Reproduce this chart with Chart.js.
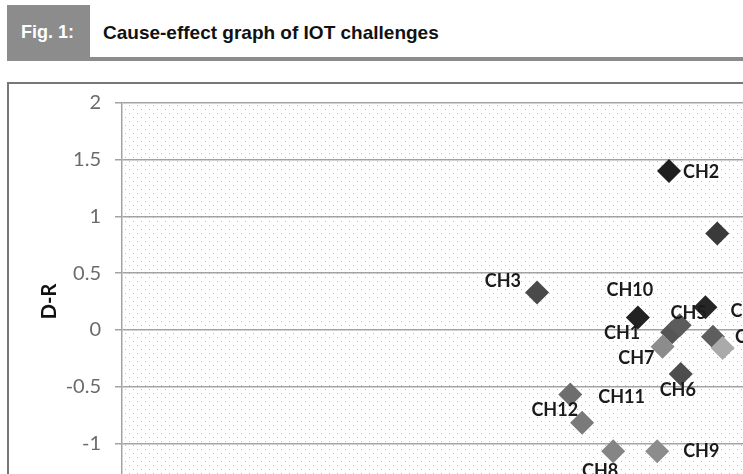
<!DOCTYPE html>
<html lang="en">
<head>
  <meta charset="UTF-8">
  <title>Cause-effect graph of IOT challenges</title>
  <script src="https://cdn.jsdelivr.net/npm/chart.js"></script>
  <style>
    html, body {
      margin: 0;
      padding: 0;
      width: 743px;
      height: 474px;
      overflow: hidden;
      background: #fff;
      font-family: "Liberation Sans", Arial, sans-serif;
    }
    .figbox {
      position: absolute;
      left: 7px;
      top: 5px;
      width: 83px;
      height: 55px;
      background: #8c8c8c;
    }
    .figbox span {
      position: absolute;
      left: 14px;
      top: 17px;
      color: #fff;
      font-weight: bold;
      font-size: 18px;
    }
    .rule {
      position: absolute;
      left: 7px;
      top: 57px;
      width: 800px;
      height: 4px;
      background: #8c8c8c;
    }
    .title {
      position: absolute;
      left: 103px;
      top: 22px;
      font-weight: bold;
      font-size: 19px;
      color: #111;
    }
    .frame {
      position: absolute;
      left: 7px;
      top: 82px;
      width: 900px;
      height: 600px;
      border: 2px solid #777;
    }
    #chart {
      position: absolute;
      left: 0;
      top: 0;
    }
  </style>
</head>
<body>
  <div class="figbox"><span>Fig. 1:</span></div>
  <div class="rule"></div>
  <div class="title">Cause-effect graph of IOT challenges</div>
  <div class="frame"></div>
  <canvas id="chart" width="1000" height="543"></canvas>

  <script>
    // challenges, D+R (x) and D-R (y)
    const challenges = ['CH1', 'CH2', 'CH3', 'CH4', 'CH5', 'CH6', 'CH7', 'CH8',
                        'CH9', 'CH10', 'CH11', 'CH12', 'CH13', 'CH14', 'CH15'];
    const dPlusR  = [5.13, 5.10, 3.87, 5.44, 5.20, 5.21, 5.04, 4.58,
                     4.99, 4.81, 4.18, 4.29, 5.55, 5.51, 5.60];
    const dMinusR = [-0.02, 1.40, 0.33, 0.20, 0.04, -0.39, -0.15, -1.07,
                     -1.07, 0.11, -0.57, -0.82, 0.85, -0.06, -0.16];
    const yTicks = [2, 1.5, 1, 0.5, 0, -0.5, -1, -1.5];

    const shades = ['#555555', '#1e1e1e', '#4a4a4a', '#262626', '#5c5c5c', '#4d4d4d',
                    '#8c8c8c', '#858585', '#8c8c8c', '#222222', '#6e6e6e', '#7a7a7a',
                    '#3a3a3a', '#5e5e5e', '#aaaaaa'];

    // label placement: [dx, dy, textAlign]
    const labelOffsets = [
      [-32, 1, 'right'], [14, 1, 'left'], [-16, -11, 'right'], [25, 4, 'left'],
      [9, -12, 'center'], [-3, 16, 'center'], [-8, 11, 'right'], [-13, 20, 'center'],
      [26, 0, 'left'], [-8, -27, 'center'], [28, 3, 'left'], [-4, -13, 'right'],
      [30, 0, 'left'], [22, 1, 'left'], [26, 0, 'left']
    ];

    const points = dPlusR.map((x, i) => ({ x: x, y: dMinusR[i] }));

    const dotted = {
      id: 'dotted',
      beforeDraw(chart) {
        const { ctx, chartArea: a } = chart;
        const pc = document.createElement('canvas');
        pc.width = 8; pc.height = 8;
        const p = pc.getContext('2d');
        p.fillStyle = '#fff';
        p.fillRect(0, 0, 8, 8);
        p.fillStyle = '#bdbdbd';
        p.fillRect(1, 1, 1, 1);
        p.fillRect(5, 5, 1, 1);
        ctx.save();
        ctx.fillStyle = ctx.createPattern(pc, 'repeat');
        ctx.fillRect(a.left, a.top, a.right - a.left, a.bottom - a.top);
        ctx.restore();
      }
    };

    const pointLabels = {
      id: 'pointLabels',
      afterDatasetsDraw(chart) {
        const { ctx } = chart;
        const meta = chart.getDatasetMeta(0);
        ctx.save();
        ctx.font = 'bold 18px Lato, "Open Sans", sans-serif';
        ctx.fillStyle = '#1a1a1a';
        ctx.textBaseline = 'middle';
        meta.data.forEach((el, i) => {
          const [dx, dy, align] = labelOffsets[i];
          ctx.textAlign = align;
          ctx.fillText(challenges[i], el.x + dx, el.y + dy);
        });
        ctx.restore();
      }
    };

    new Chart(document.getElementById('chart'), {
      type: 'scatter',
      data: {
        datasets: [{
          label: 'IOT challenges',
          data: points,
          pointStyle: 'rectRot',
          pointRadius: 12,
          pointHoverRadius: 12,
          pointBorderWidth: 0,
          pointBackgroundColor: shades,
          pointBorderColor: shades
        }]
      },
      options: {
        responsive: false,
        animation: false,
        devicePixelRatio: 1,
        layout: { padding: { top: 103, left: 0, right: 20, bottom: 0 } },
        plugins: {
          legend: { display: false },
          tooltip: { enabled: false }
        },
        scales: {
          x: {
            min: 0,
            max: 8,
            grid: { display: false },
            border: { color: '#a3a3a3', width: 1.5 },
            ticks: { color: '#6b6b6b', font: { family: 'Lato', size: 20 } },
            afterFit(scale) { scale.height = 43; }
          },
          y: {
            min: -1.5,
            max: 2,
            afterBuildTicks(scale) { scale.ticks = yTicks.map(v => ({ value: v })); },
            afterFit(scale) { scale.width = 122; },
            grid: { color: '#a3a3a3', lineWidth: 1.5, tickLength: 7 },
            border: { color: '#a3a3a3', width: 1.5 },
            ticks: {
              color: '#6b6b6b',
              padding: 14,
              font: { family: 'Lato', size: 20 },
              callback: v => String(v)
            },
            title: {
              display: true,
              text: 'D-R',
              color: '#111',
              font: { family: 'Lato', size: 20, weight: 'bold' },
              padding: { top: 38, bottom: 0 }
            }
          }
        }
      },
      plugins: [dotted, pointLabels]
    });
  </script>
</body>
</html>
